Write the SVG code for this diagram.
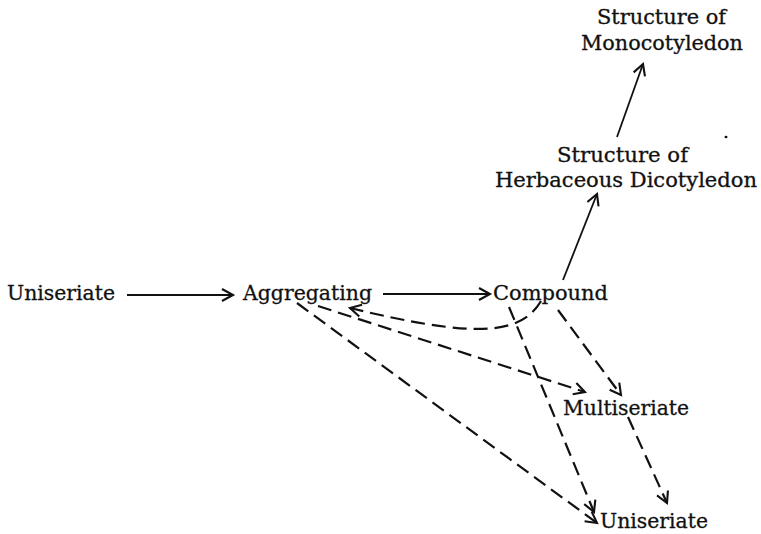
<svg xmlns="http://www.w3.org/2000/svg" width="761" height="534" viewBox="0 0 761 534">
<style>
.t{font-family:"DejaVu Serif","Liberation Serif",serif;font-size:20px;fill:#111;stroke:#111;stroke-width:0.3}
.s{fill:none;stroke:#111;stroke-width:1.8}
.d{fill:none;stroke:#111;stroke-width:2.2;stroke-dasharray:14 7}
</style>
<defs>
<marker id="ah" markerUnits="userSpaceOnUse" markerWidth="15" markerHeight="15" refX="12" refY="6.5" orient="auto" viewBox="0 0 15 13">
<path d="M1,0.5 L12,6.5 L1,12.5" fill="none" stroke="#111" stroke-width="2.1"/>
</marker>
</defs>
<rect width="761" height="534" fill="#fff"/>
<g id="connectors">
<path class="s" d="M127,295 L233,295" marker-end="url(#ah)"/>
<path class="s" d="M383,294 L490,294" marker-end="url(#ah)"/>
<path class="s" d="M563,280 L597,194" marker-end="url(#ah)"/>
<path class="s" d="M617,137 L643,64" marker-end="url(#ah)"/>
<path class="d" d="M541,301 C520,337 470,337 350,308" marker-end="url(#ah)"/>
<path class="d" d="M318,306 L585,392" marker-end="url(#ah)"/>
<path class="d" d="M297,303 L597,523" marker-end="url(#ah)"/>
<path class="d" d="M509,307 L594,512" marker-end="url(#ah)"/>
<path class="d" d="M558,310 L621,395" marker-end="url(#ah)"/>
<path class="d" d="M628,417 L667,503" marker-end="url(#ah)"/>
</g>
<g id="n-uniseriate-left"><text class="t" x="7" y="300" textLength="108" lengthAdjust="spacingAndGlyphs">Uniseriate</text></g>
<g id="n-aggregating"><text class="t" x="243" y="300" textLength="129" lengthAdjust="spacingAndGlyphs">Aggregating</text></g>
<g id="n-compound"><text class="t" x="493" y="300" textLength="115" lengthAdjust="spacingAndGlyphs">Compound</text></g>
<g id="n-herbaceous"><text class="t" x="557" y="162" textLength="131" lengthAdjust="spacingAndGlyphs">Structure of</text><text class="t" x="495" y="187" textLength="262" lengthAdjust="spacingAndGlyphs">Herbaceous Dicotyledon</text></g>
<g id="n-monocot"><text class="t" x="597" y="24" textLength="129" lengthAdjust="spacingAndGlyphs">Structure of</text><text class="t" x="581" y="50" textLength="162" lengthAdjust="spacingAndGlyphs">Monocotyledon</text></g>
<g id="n-multiseriate"><text class="t" x="563" y="415" textLength="126" lengthAdjust="spacingAndGlyphs">Multiseriate</text></g>
<g id="n-uniseriate-bottom"><text class="t" x="600" y="528" textLength="108" lengthAdjust="spacingAndGlyphs">Uniseriate</text></g>
<ellipse cx="726" cy="137" rx="1.5" ry="1.2" fill="#111"/>
</svg>
